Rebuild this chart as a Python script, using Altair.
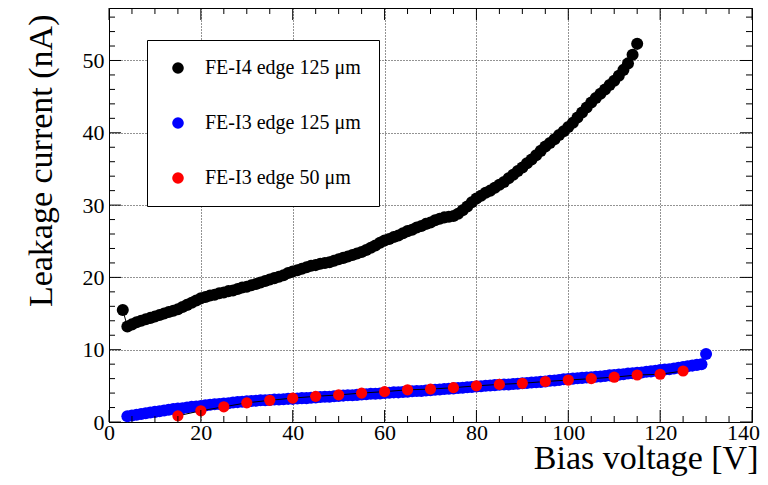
import altair as alt
import pandas as pd

F = "Liberation Serif"
W, H = 643, 414

S1 = "FE-I4 edge 125 μm"
S2 = "FE-I3 edge 125 μm"
S3 = "FE-I3 edge 50 μm"

# FE-I4 edge 125 um (black), 1 V steps from 3 V to 115 V
fei4_v = list(range(3, 116))
fei4_i = [15.5, 13.2, 13.5, 13.8, 14.0, 14.2, 14.4, 14.6, 14.8, 15.0,
          15.2, 15.4, 15.6, 15.9, 16.2, 16.5, 16.8, 17.1, 17.3, 17.5,
          17.6, 17.8, 17.9, 18.1, 18.2, 18.4, 18.6, 18.7, 18.9, 19.1,
          19.3, 19.5, 19.7, 19.9, 20.1, 20.3, 20.6, 20.8, 21.0, 21.2,
          21.4, 21.6, 21.7, 21.9, 22.0, 22.1, 22.3, 22.5, 22.7, 22.9,
          23.1, 23.3, 23.5, 23.8, 24.1, 24.4, 24.8, 25.1, 25.3, 25.6,
          25.8, 26.1, 26.4, 26.6, 26.9, 27.1, 27.4, 27.6, 27.9, 28.1,
          28.3, 28.4, 28.5, 28.8, 29.3, 29.8, 30.4, 30.9, 31.3, 31.7,
          32.0, 32.4, 32.8, 33.2, 33.7, 34.2, 34.7, 35.2, 35.8, 36.3,
          36.9, 37.5, 38.1, 38.6, 39.1, 39.7, 40.2, 40.8, 41.4, 42.1,
          42.8, 43.5, 44.2, 44.8, 45.4, 46.0, 46.6, 47.2, 47.9, 48.7,
          49.6, 50.8, 52.3]

# FE-I3 edge 125 um (blue), 1 V steps from 4 V to 130 V
fei3a_v = list(range(4, 131))
fei3a_i = [0.8, 0.9, 1.0, 1.1, 1.2, 1.3, 1.4, 1.5, 1.6, 1.7,
           1.8, 1.85, 1.9, 2.0, 2.1, 2.15, 2.2, 2.3, 2.4, 2.45,
           2.5, 2.55, 2.6, 2.7, 2.75, 2.8, 2.85, 2.9, 2.95, 3.0,
           3.0, 3.05, 3.1, 3.1, 3.15, 3.2, 3.2, 3.25, 3.3, 3.3,
           3.35, 3.4, 3.45, 3.5, 3.5, 3.55, 3.6, 3.65, 3.7, 3.7,
           3.75, 3.8, 3.85, 3.9, 3.9, 3.95, 4.0, 4.05, 4.1, 4.1,
           4.15, 4.2, 4.25, 4.3, 4.3, 4.35, 4.4, 4.45, 4.5, 4.55,
           4.6, 4.65, 4.7, 4.75, 4.8, 4.85, 4.9, 4.95, 5.0, 5.05,
           5.1, 5.15, 5.2, 5.2, 5.25, 5.3, 5.35, 5.4, 5.45, 5.5,
           5.55, 5.6, 5.7, 5.75, 5.8, 5.9, 5.95, 6.0, 6.05, 6.1,
           6.15, 6.2, 6.25, 6.3, 6.35, 6.45, 6.5, 6.55, 6.6, 6.7,
           6.75, 6.8, 6.85, 6.95, 7.0, 7.1, 7.2, 7.25, 7.3, 7.4,
           7.5, 7.6, 7.7, 7.8, 7.9, 8.0, 9.4]

# FE-I3 edge 50 um (red), 5 V steps
fei3b_v = [15, 20, 25, 30, 35, 40, 45, 50, 55, 60, 65, 70, 75, 80, 85,
           90, 95, 100, 105, 110, 115, 120, 125]
fei3b_i = [0.85, 1.55, 2.1, 2.65, 3.0, 3.3, 3.55, 3.75, 4.0, 4.2, 4.45,
           4.55, 4.75, 5.0, 5.2, 5.35, 5.6, 5.8, 6.0, 6.2, 6.5, 6.6, 7.05]

x_major = [0, 20, 40, 60, 80, 100, 120, 140]
x_minor = [v for v in range(0, 141, 5) if v % 20 != 0]
y_major = [0, 10, 20, 30, 40, 50]
y_minor = [v for v in range(0, 58, 2) if v % 10 != 0]

df = pd.concat([
    pd.DataFrame({"v": fei4_v, "i": fei4_i, "s": S1, "k": 0}),
    pd.DataFrame({"v": fei3a_v, "i": fei3a_i, "s": S2, "k": 1}),
    pd.DataFrame({"v": fei3b_v, "i": fei3b_i, "s": S3, "k": 2}),
], ignore_index=True)

xs = alt.Scale(domain=[0, 140], nice=False, zero=False)
ys = alt.Scale(domain=[0, 57.26], nice=False, zero=False)

grid_kw = dict(grid=True, gridColor="black", gridDash=[1, 2], gridWidth=1,
               gridOpacity=0.85, ticks=False, tickSize=0, domain=False,
               labelFont=F, labelFontSize=22, labelColor="black",
               labelOverlap=False, labelFlush=False,
               titleFont=F, titleFontSize=34, titleFontWeight="normal",
               titleColor="black")

x_axis = alt.Axis(values=x_major, labelPadding=0, title="Bias voltage [V]",
                  labelOffset=alt.ExprRef("datum.value == 140 ? -9 : 0"),
                  titleAlign="right", titleBaseline="alphabetic",
                  titleX=W + 6, titleY=46, **grid_kw)
y_axis = alt.Axis(values=y_major, labelPadding=5, title="Leakage current (nA)",
                  titleAngle=270, titleAlign="right", titleBaseline="alphabetic",
                  titleX=-58, titleY=6, **grid_kw)

def X(field):
    return alt.X(field, type="quantitative", scale=xs, axis=x_axis,
                 title="Bias voltage [V]")

def Y(field):
    return alt.Y(field, type="quantitative", scale=ys, axis=y_axis,
                 title="Leakage current (nA)")

color = alt.Color("s:N", scale=alt.Scale(domain=[S1, S2, S3],
                                         range=["#000000", "#0000ff", "#ff0000"]),
                  legend=alt.Legend(orient="none", legendX=38, legendY=32,
                                    title=None, fillColor="white",
                                    strokeColor="black",
                                    padding=18, symbolOffset=3,
                                    symbolType="circle", symbolSize=135,
                                    symbolStrokeWidth=0, labelFont=F,
                                    labelFontSize=20, labelColor="black",
                                    labelOffset=17, rowPadding=35,
                                    labelLimit=400,
                                    labelExpr="datum.label + '\u00a0\u00a0\u00a0\u00a0'"))

base = alt.Chart(df)

def lines(filt):
    return base.transform_filter(filt).mark_line(
        color="black", strokeWidth=1).encode(
        x=X("v"), y=Y("i"), detail="s:N", order="v:Q")

def points(filt, size):
    return base.transform_filter(filt).mark_circle(opacity=1, size=size).encode(
        x=X("v"), y=Y("i"), color=color, order="k:Q")

def xticks(vals, length):
    c = alt.Chart(pd.DataFrame({"t": vals}))
    return [c.mark_rule(color="black", strokeWidth=1).encode(
                x=X("t"), y=alt.value(H), y2=alt.value(H - length)),
            c.mark_rule(color="black", strokeWidth=1).encode(
                x=X("t"), y=alt.value(0), y2=alt.value(length))]

def yticks(vals, length):
    c = alt.Chart(pd.DataFrame({"t": vals}))
    return [c.mark_rule(color="black", strokeWidth=1).encode(
                y=Y("t"), x=alt.value(0), x2=alt.value(length)),
            c.mark_rule(color="black", strokeWidth=1).encode(
                y=Y("t"), x=alt.value(W), x2=alt.value(W - length))]

tick_layers = (xticks(x_major, 12) + xticks(x_minor, 6) +
               yticks(y_major, 12) + yticks(y_minor, 6))

chart = alt.layer(
    lines("datum.k < 2"),
    points("datum.k < 2", 145),
    lines("datum.k == 2"),
    points("datum.k == 2", 125),
    *tick_layers,
).properties(
    width=W, height=H,
    padding={"left": 101, "top": 0, "right": 8, "bottom": 54},
    autosize=alt.AutoSizeParams(type="none"),
    background="white",
).configure_view(stroke="black", strokeWidth=1
).configure_legend(strokeWidth=1)

chart.save("out.html", embed_options={"renderer": "svg", "actions": False})
